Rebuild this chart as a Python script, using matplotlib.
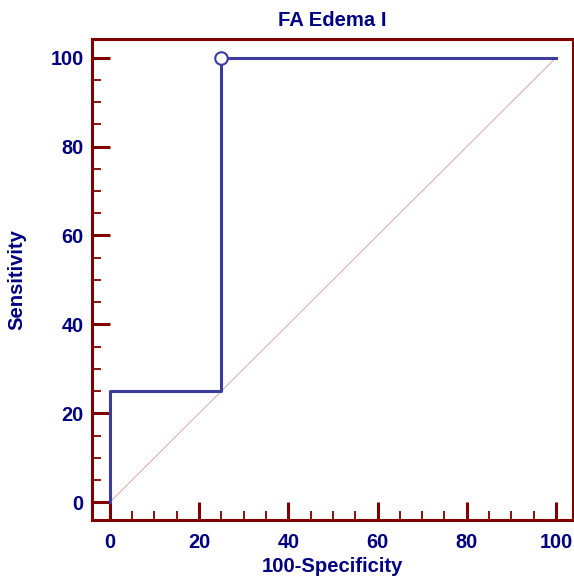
import matplotlib.pyplot as plt
from matplotlib.ticker import MultipleLocator

# ROC data
fpr = [0, 0, 25, 25, 100]          # 100-Specificity
tpr = [0, 25, 25, 100, 100]        # Sensitivity
cut_x = [25]                        # marked criterion point
cut_y = [100]

plt.rcParams['font.family'] = ['Liberation Sans', 'DejaVu Sans']
plt.rcParams['font.weight'] = 'bold'

navy = '#000080'
maroon = '#800000'
curve = '#3c3ca0'

fig = plt.figure(figsize=(5.74, 5.78), dpi=100)
ax = fig.add_axes([92 / 574, 1 - 520 / 578, 481 / 574, 481 / 578])

# reference diagonal
ax.plot([0, 100], [0, 100], color='#d49a9a', lw=0.6, zorder=1)
# ROC curve
ax.plot(fpr, tpr, color=curve, lw=2.2, zorder=2, clip_on=False)
ax.plot(cut_x, cut_y, 'o', ms=9, mfc='white', mec=curve, mew=1.5, zorder=3)

ax.set_xlim(-4.0, 103.8)
ax.set_ylim(-4.0, 104.2)

ax.xaxis.set_major_locator(MultipleLocator(20))
ax.xaxis.set_minor_locator(MultipleLocator(5))
ax.yaxis.set_major_locator(MultipleLocator(20))
ax.yaxis.set_minor_locator(MultipleLocator(5))

for s in ax.spines.values():
    s.set_color(maroon)
    s.set_linewidth(2.2)

ax.tick_params(which='both', direction='in', color=maroon, top=False, right=False)
ax.tick_params(which='major', length=13, width=2.2, labelsize=14.3, labelcolor=navy)
ax.tick_params(which='minor', length=6.5, width=1.3)
ax.tick_params(axis='x', which='major', pad=9)
ax.tick_params(axis='y', which='major', pad=6)

ax.set_title('FA Edema I', color=navy, fontsize=14.6, fontweight='bold', pad=9)
ax.set_xlabel('100-Specificity', color=navy, fontsize=14.6, fontweight='bold', labelpad=4)
ax.set_ylabel('Sensitivity', color=navy, fontsize=14.6, fontweight='bold', labelpad=17)

fig.savefig('out.png', dpi=100)
